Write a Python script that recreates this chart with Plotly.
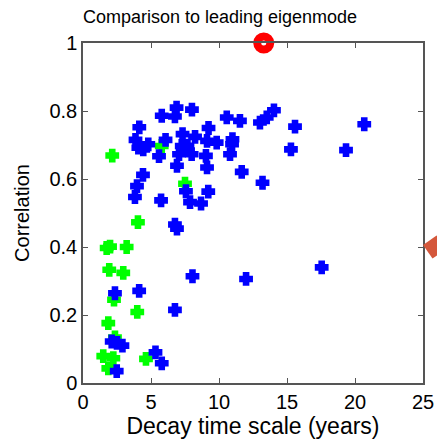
import plotly.graph_objects as go

# Blue series (decay time scale, correlation)
blue_x = [6.88, 5.79, 6.76, 8.01, 10.57, 11.54, 13.01, 13.51, 14.04, 15.59, 20.68, 15.29,
          19.34, 13.2, 17.55, 11.99, 8.05, 6.76, 4.14, 9.23, 3.86, 4.80, 4.07, 4.43,
          6.07, 7.32, 8.24, 7.26, 7.68, 7.06, 7.99, 9.12, 9.83, 10.99, 10.96, 10.81,
          5.59, 9.04, 6.91, 9.12, 11.67, 4.41, 3.97, 3.82, 5.74, 7.57, 9.21, 7.87,
          8.68, 6.76, 6.91, 2.35, 4.13, 2.11, 2.5, 2.9, 2.48, 5.33, 5.79]
blue_y = [0.810, 0.786, 0.784, 0.804, 0.781, 0.771, 0.766, 0.781, 0.802, 0.754, 0.761, 0.687,
          0.685, 0.589, 0.340, 0.306, 0.314, 0.215, 0.752, 0.750, 0.715, 0.702, 0.692, 0.687,
          0.715, 0.732, 0.724, 0.697, 0.698, 0.673, 0.673, 0.712, 0.707, 0.717, 0.702, 0.673,
          0.667, 0.668, 0.639, 0.634, 0.621, 0.612, 0.579, 0.547, 0.537, 0.564, 0.563, 0.532,
          0.528, 0.466, 0.454, 0.264, 0.271, 0.122, 0.118, 0.110, 0.035, 0.090, 0.058]

# Green series
green_x = [2.15, 5.79, 7.5, 4.04, 1.74, 1.99, 3.21, 1.93, 2.96, 2.28, 3.99, 1.86, 2.35,
           1.49, 2.23, 1.86, 4.63]
green_y = [0.669, 0.697, 0.586, 0.473, 0.397, 0.401, 0.400, 0.333, 0.324, 0.245, 0.209,
           0.176, 0.134, 0.079, 0.073, 0.043, 0.071]

# Leading eigenmode reference point and off-axis marker
lead_x = [13.29]
lead_y = [1.0]
off_x = [25.85]
off_y = [0.40]

x_range = [0, 25]
y_range = [0, 1]
x_ticks = [0, 5, 10, 15, 20, 25]
y_ticks = [0, 0.2, 0.4, 0.6, 0.8, 1]

W, H = 437, 445
ML, MR, MT, MB = 83, 0, 43, 62
plot_right = 423
dom_frac = (plot_right - ML) / (W - ML - MR)

fig = go.Figure()
fig.add_trace(go.Scatter(x=green_x, y=green_y, mode="markers",
                         marker=dict(symbol="cross", size=9, color="#00ff00",
                                     line=dict(color="#00ff00", width=3))))
fig.add_trace(go.Scatter(x=blue_x, y=blue_y, mode="markers",
                         marker=dict(symbol="cross", size=9, color="#0000ff",
                                     line=dict(color="#0000ff", width=3))))
fig.add_trace(go.Scatter(x=lead_x, y=lead_y, mode="markers", cliponaxis=False,
                         marker=dict(symbol="circle", size=13, color="white",
                                     line=dict(color="#ff0000", width=8))))
# marker lying just beyond the right edge of the axes (drawn on a hidden overlay axis
# that spans the full width, same scale)
fig.add_trace(go.Scatter(x=off_x, y=off_y, mode="markers", cliponaxis=False,
                         xaxis="x2", yaxis="y2",
                         marker=dict(symbol="diamond", size=18, color="#d4573b",
                                     angle=10, line=dict(width=0))))

axis_common = dict(showgrid=False, zeroline=False, showline=True, mirror="ticks",
                   linecolor="#555555", linewidth=1.5, ticks="inside", ticklen=5,
                   tickcolor="#555555", tickwidth=1, automargin=False,
                   tickfont=dict(size=20, color="black"))

fig.update_layout(
    width=W, height=H,
    margin=dict(l=ML, r=MR, t=MT, b=MB, autoexpand=False),
    paper_bgcolor="white", plot_bgcolor="rgba(0,0,0,0)",
    showlegend=False,
    font=dict(family="Liberation Sans, Arial, sans-serif", color="black"),
    title=dict(text="Comparison to leading eigenmode", x=220 / W, xanchor="center",
               y=1 - 17 / H, yanchor="middle", font=dict(size=18, color="black")),
    xaxis=dict(range=x_range, tickvals=x_ticks, domain=[0, dom_frac],
               title=dict(text="Decay time scale (years)", font=dict(size=23), standoff=4),
               **axis_common),
    yaxis=dict(range=y_range, tickvals=y_ticks,
               title=dict(text="Correlation", font=dict(size=20), standoff=14),
               **axis_common),
    xaxis2=dict(range=[x_range[0], x_range[1] / dom_frac], domain=[0, 1],
                anchor="y2", visible=False),
    yaxis2=dict(range=y_range, domain=[0, 1], anchor="x2", visible=False),
)

fig.write_html("out.html")
